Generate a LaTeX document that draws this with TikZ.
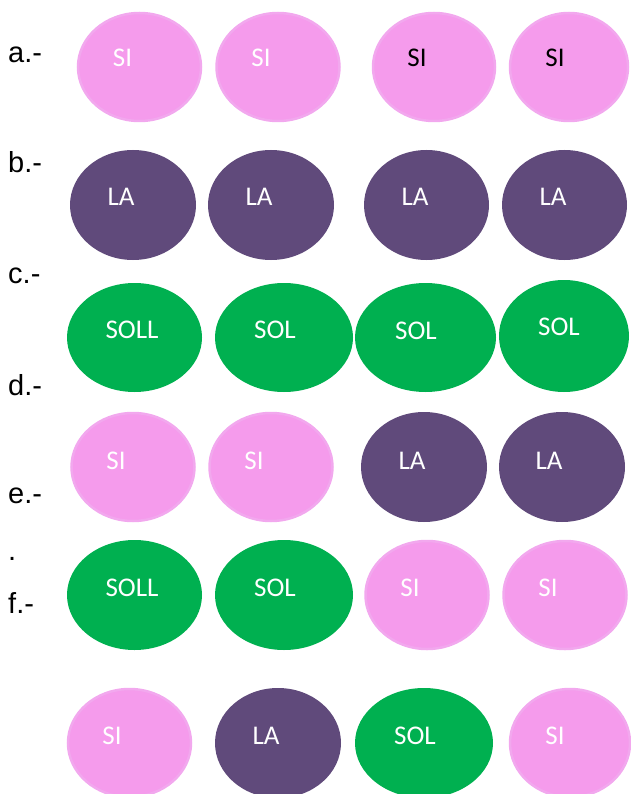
\documentclass[tikz,border=0pt]{standalone}
\usepackage{fontspec}
\setmainfont{Liberation Sans}
\newfontfamily\carlfont{Carlito}
\usetikzlibrary{shapes.geometric}
\definecolor{pinkf}{RGB}{245,155,236}
\definecolor{pinkd}{RGB}{242,168,238}
\definecolor{purp}{RGB}{96,74,123}
\definecolor{grn}{RGB}{0,176,80}
\tikzset{
  ov/.style={ellipse, inner sep=0pt, outer sep=0pt},
  pk/.style={ov, fill=pinkf, draw=pinkd, line width=2.5pt},
  pu/.style={ov, fill=purp},
  gr/.style={ov, fill=grn},
  tx/.style={anchor=base, inner sep=0pt, font=\carlfont\fontsize{27}{27}\selectfont, text=white},
  txb/.style={tx, text=black},
  lab/.style={anchor=base west, inner sep=0pt, font=\fontsize{29}{29}\selectfont}
}
\newcommand{\ov}[6]{\node[#1, minimum width=#4pt, minimum height=#5pt] (#6) at (#2pt,-#3pt) {};}
\begin{document}
\begin{tikzpicture}[x=1pt,y=1pt]
\useasboundingbox (0,0) rectangle (630,-794);
% labels
\node[lab] (la) at (8,-63) {a.-};
\node[lab] (lb) at (8,-173) {b.-};
\node[lab] (lc) at (8,-283) {c.-};
\node[lab] (ld) at (8,-395) {d.-};
\node[lab] (le) at (8,-503) {e.-};
\node[lab] (ldot) at (8,-560) {.};
\node[lab] (lf) at (8,-613) {f.-};
% row a
\ov{pk}{139.5}{67}{123}{108}{a1}
\ov{pk}{278}{67}{123}{108}{a2}
\ov{pk}{434}{67}{122}{108}{a3}
\ov{pk}{569}{67}{118}{108}{a4}
\node[tx] (ta1) at (122.5,-67) {SI};
\node[tx] (ta2) at (261,-67) {SI};
\node[txb] (ta3) at (417,-67) {SI};
\node[txb] (ta4) at (555,-67) {SI};
% row b
\ov{pu}{133}{205}{126}{110}{b1}
\ov{pu}{271}{205}{126}{110}{b2}
\ov{pu}{426.5}{205}{125}{110}{b3}
\ov{pu}{564.5}{205}{125}{110}{b4}
\node[tx] (tb1) at (121,-206) {LA};
\node[tx] (tb2) at (259,-206) {LA};
\node[tx] (tb3) at (415,-206) {LA};
\node[tx] (tb4) at (553,-206) {LA};
% row c
\ov{gr}{134.5}{337.5}{135}{109}{c1}
\ov{gr}{284}{337.5}{138}{109}{c2}
\ov{gr}{425.5}{337.5}{141}{109}{c3}
\ov{gr}{564}{336}{130}{112}{c4}
\node[tx] (tc1) at (132,-338) {SOLL};
\node[tx] (tc2) at (275,-338) {SOL};
\node[tx] (tc3) at (416,-339) {SOL};
\node[tx] (tc4) at (559,-335) {SOL};
% row d
\ov{pk}{133}{467}{123}{108}{d1}
\ov{pk}{271}{467}{123}{108}{d2}
\ov{pu}{424}{467}{126}{110}{d3}
\ov{pu}{562}{467}{126}{110}{d4}
\node[tx] (td1) at (116,-469) {SI};
\node[tx] (td2) at (254,-469) {SI};
\node[tx] (td3) at (412,-469) {LA};
\node[tx] (td4) at (549,-469) {LA};
% row e
\ov{gr}{134.5}{595}{135}{110}{e1}
\ov{gr}{284}{595}{138}{110}{e2}
\ov{pk}{427}{595}{123}{108}{e3}
\ov{pk}{565}{595}{123}{108}{e4}
\node[tx] (te1) at (132,-596) {SOLL};
\node[tx] (te2) at (275,-596) {SOL};
\node[tx] (te3) at (410,-596) {SI};
\node[tx] (te4) at (548,-596) {SI};
% row f
\ov{pk}{129.5}{743}{123}{108}{f1}
\ov{pu}{278}{743}{126}{110}{f2}
\ov{gr}{424}{743}{138}{110}{f3}
\ov{pk}{570}{743}{120}{108}{f4}
\node[tx] (tf1) at (112,-744) {SI};
\node[tx] (tf2) at (266,-744) {LA};
\node[tx] (tf3) at (415,-744) {SOL};
\node[tx] (tf4) at (555,-744) {SI};
\end{tikzpicture}
\end{document}
